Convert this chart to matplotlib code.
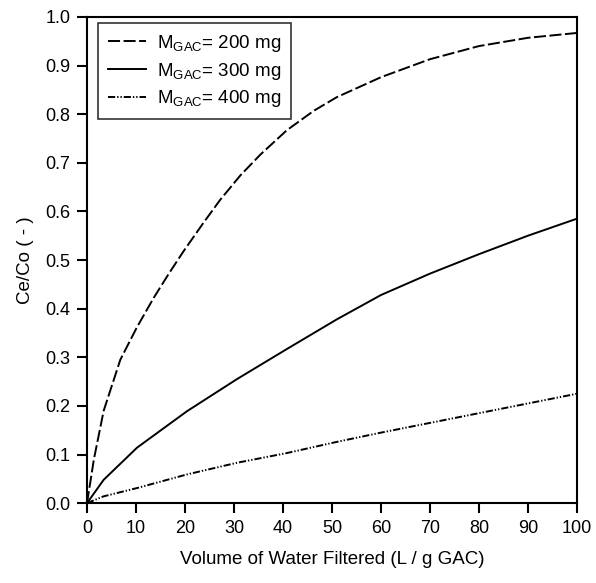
import matplotlib
matplotlib.use("Agg")
import matplotlib.pyplot as plt

plt.rcParams['font.family'] = ['Liberation Sans', 'DejaVu Sans']
plt.rcParams['mathtext.fontset'] = 'custom'
plt.rcParams['mathtext.rm'] = 'Liberation Sans'

# --- data ---
vol = [0, 1.4, 3.4, 6.8, 10.2, 13.6, 16.7, 19.7, 23.8, 27.2, 31.3, 35.4,
       40.8, 46.3, 51, 60, 70, 80, 90, 100]
ce_200 = [0, 0.09, 0.19, 0.295, 0.362, 0.422, 0.472, 0.518, 0.577, 0.624,
          0.674, 0.717, 0.767, 0.807, 0.835, 0.876, 0.913, 0.940, 0.957, 0.967]

vol_b = [0, 3.4, 10.2, 20.4, 30.6, 40.8, 51, 60, 70, 80, 90, 100]
ce_300 = [0, 0.048, 0.114, 0.189, 0.255, 0.317, 0.378, 0.428, 0.472, 0.512, 0.550, 0.585]
ce_400 = [0, 0.014, 0.031, 0.059, 0.083, 0.103, 0.126, 0.145, 0.165, 0.185, 0.205, 0.225]

labels = [r'$\mathregular{M_{GAC}}$= 200 mg',
          r'$\mathregular{M_{GAC}}$= 300 mg',
          r'$\mathregular{M_{GAC}}$= 400 mg']

fig = plt.figure(figsize=(5.96, 5.83), dpi=100)
ax = fig.add_axes([0.146, 0.137, 0.822, 0.834])

ax.plot(vol, ce_200, color='black', lw=1.4, linestyle=(0, (6.2, 1.8)), label=labels[0])
ax.plot(vol_b, ce_300, color='black', lw=1.4, linestyle='-', label=labels[1])
ax.plot(vol_b, ce_400, color='black', lw=1.4,
        linestyle=(0, (3.7, 1, 0.7, 1, 0.7, 1)), label=labels[2])

ax.set_xlim(0, 100)
ax.set_ylim(0, 1.0)
ax.set_xticks(range(0, 101, 10))
ax.set_yticks([i / 10 for i in range(11)])
ax.set_yticklabels([f'{i / 10:.1f}' for i in range(11)])

for s in ax.spines.values():
    s.set_linewidth(1.5)
ax.tick_params(direction='out', length=7, width=1.5, labelsize=13, pad=5)

ax.set_xlabel('Volume of Water Filtered (L / g GAC)', fontsize=13.5, labelpad=10)
ax.set_ylabel('Ce/Co ( - )', fontsize=13.5, labelpad=8)

leg = ax.legend(loc='upper left', bbox_to_anchor=(0.022, 0.988), fontsize=13.5,
                frameon=True, fancybox=False, edgecolor='black', handlelength=2.0,
                borderpad=0.55, labelspacing=0.35, handletextpad=0.6, borderaxespad=0)
leg.get_frame().set_linewidth(1.2)

fig.savefig('out.png', dpi=100)
